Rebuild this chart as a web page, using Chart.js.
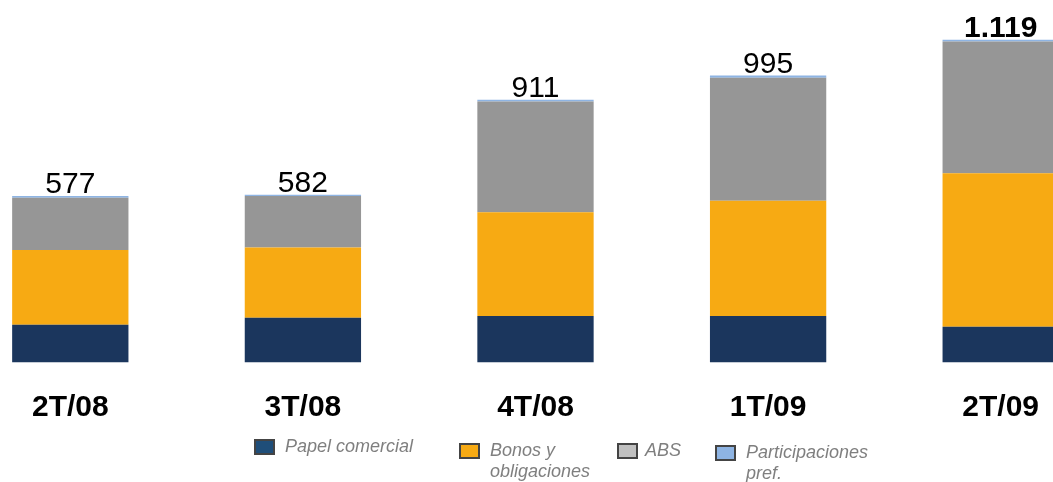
<!DOCTYPE html>
<html>
<head>
<meta charset="utf-8">
<script src="https://cdn.jsdelivr.net/npm/chart.js@4/dist/chart.umd.min.js"></script>
<style>
  html, body { margin: 0; padding: 0; background: #fff; }
  body { width: 1053px; height: 482px; overflow: hidden; position: relative; font-family: "Liberation Sans", Arial, sans-serif; }
  #wrap { position: absolute; left: -46px; top: 0; width: 1163px; height: 482px; }
  .leg { position: absolute; font-style: italic; font-size: 18px; color: #7f7f7f; line-height: 21px; }
  .leg .box { position: absolute; width: 17px; height: 12px; border: 2px solid #444; }
  .leg span { position: absolute; white-space: nowrap; }
</style>
</head>
<body>
<div id="wrap"><canvas id="chart" width="1163" height="482"></canvas></div>
<div id="legend"></div>
<script>
const quarters = ['2T/08', '3T/08', '4T/08', '1T/09', '2T/09'];
const papelComercial = [131, 155, 161, 161, 124];
const bonosObligaciones = [259, 244, 360, 400, 532];
const abs = [181, 178, 384, 426, 457];
const participaciones = [6, 5, 6, 8, 6];
const totalLabels = ['577', '582', '911', '995', '1.119'];
const seriesNames = ['Papel comercial', 'Bonos y obligaciones', 'ABS', 'Participaciones pref.'];

const barColors = ['#1b365d', '#f7aa13', '#969696', '#8eb4e3'];
const legendColors = ['#1f4e79', '#f7aa13', '#c0c0c0', '#8eb4e3'];

// labels above bars and quarter names under them
const labelsPlugin = {
    id: 'labels',
    afterDatasetsDraw(chart) {
        const ctx = chart.ctx;
        const top = chart.getDatasetMeta(3);
        ctx.save();
        ctx.fillStyle = '#000';
        ctx.textAlign = 'center';
        top.data.forEach((bar, i) => {
            ctx.font = (i === totalLabels.length - 1 ? 'bold ' : '') + '30px "Liberation Sans", Arial, sans-serif';
            ctx.textBaseline = 'alphabetic';
            ctx.fillText(totalLabels[i], bar.x, bar.y - 3);
            ctx.font = 'bold 30px "Liberation Sans", Arial, sans-serif';
            ctx.textBaseline = 'middle';
            ctx.fillText(quarters[i], bar.x, 408);
        });
        ctx.restore();
    }
};

new Chart(document.getElementById('chart'), {
    type: 'bar',
    data: {
        labels: quarters,
        datasets: [papelComercial, bonosObligaciones, abs, participaciones].map((d, i) => ({
            label: seriesNames[i],
            data: d,
            backgroundColor: barColors[i],
            borderWidth: 0,
            barPercentage: 0.5,
            categoryPercentage: 1.0
        }))
    },
    options: {
        responsive: false,
        animation: false,
        layout: { padding: { top: 2, bottom: 119.5, left: 0, right: 0 } },
        plugins: { legend: { display: false }, tooltip: { enabled: false } },
        scales: {
            x: { stacked: true, display: false },
            y: { stacked: true, display: false, min: 0, max: 1250 }
        }
    },
    plugins: [labelsPlugin]
});

// legend below the chart
const legendItems = [
    { x: 254, y: 439, lines: ['Papel comercial'] },
    { x: 459, y: 443, lines: ['Bonos y', 'obligaciones'] },
    { x: 617, y: 443, lines: ['ABS'] },
    { x: 715, y: 445, lines: ['Participaciones', 'pref.'] }
];
const legend = document.getElementById('legend');
legendItems.forEach((it, i) => {
    const el = document.createElement('div');
    el.className = 'leg';
    el.style.left = it.x + 'px';
    el.style.top = it.y + 'px';
    el.innerHTML = `<div class="box" style="background:${legendColors[i]};left:0;top:0"></div>` +
        `<span style="left:${i === 2 ? 28 : 31}px;top:-3px">${it.lines.join('<br>')}</span>`;
    legend.appendChild(el);
});
</script>
</body>
</html>
